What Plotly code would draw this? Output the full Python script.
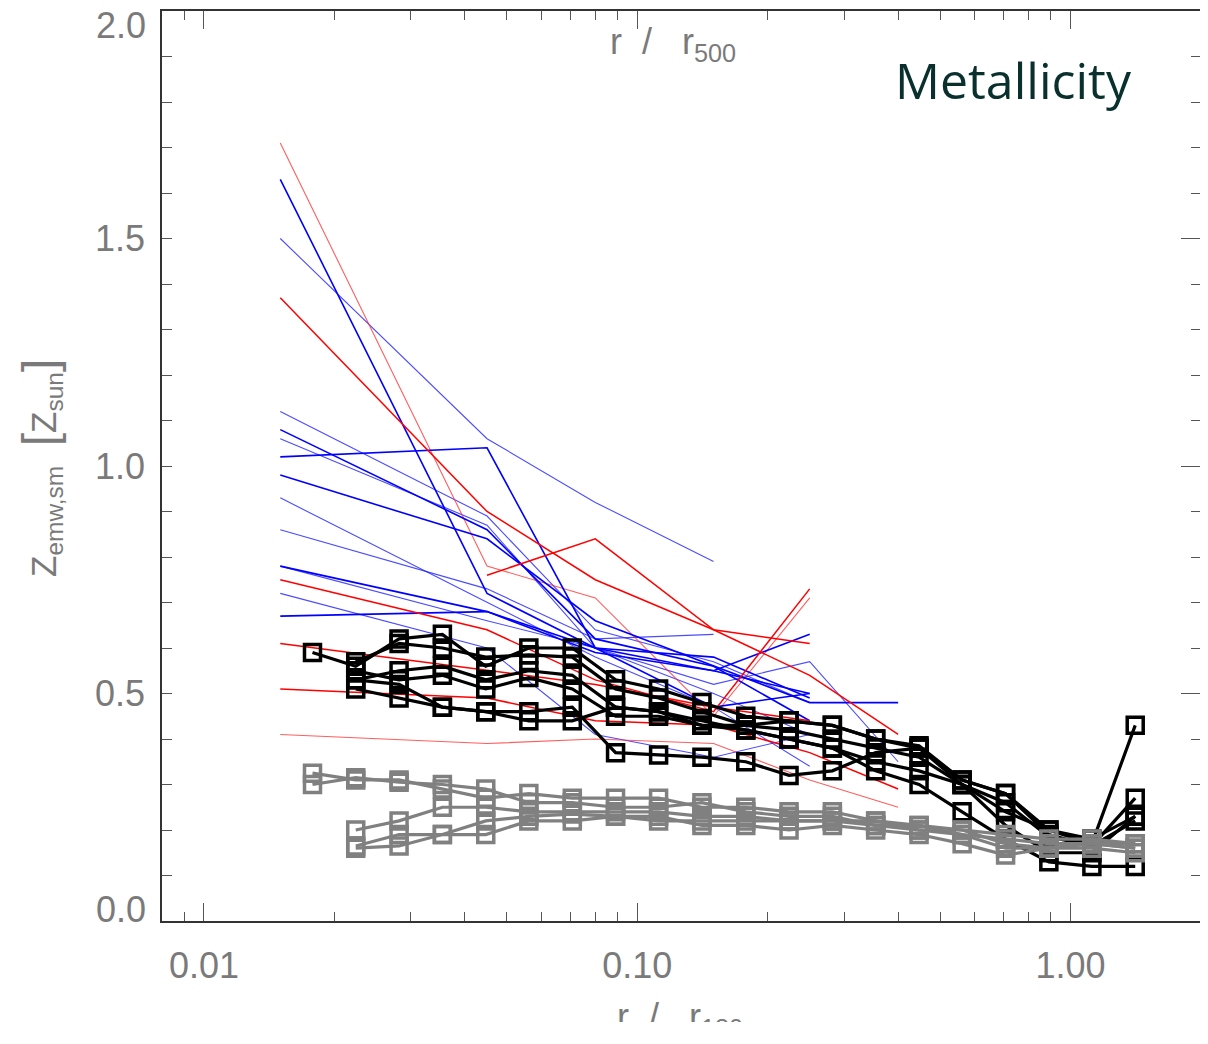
import plotly.graph_objects as go

# ---------------- data ----------------
# radii of the coloured (red/blue) profiles, r/r180
COL_X = [0.015, 0.045, 0.08, 0.15, 0.25, 0.4]

RED_BOLD = [
    [1.37, 0.90, 0.75, 0.64, 0.54, 0.41],
    [None, 0.76, 0.84, 0.64, 0.61, None],
    [0.75, 0.64, 0.53, 0.46, 0.73, None],
    [0.61, 0.55, 0.52, 0.47, 0.44, None],
    [0.51, 0.49, 0.44, 0.43, 0.37, 0.29],
]
RED_THIN = [
    [1.71, 0.78, 0.71, 0.45, 0.71, None],
    [0.41, 0.39, 0.40, 0.39, 0.31, 0.25],
]
BLUE_BOLD = [
    [1.63, 0.72, 0.60, 0.47, 0.50, None],
    [1.08, 0.86, 0.62, 0.56, 0.44, None],
    [1.02, 1.04, 0.60, 0.55, 0.63, None],
    [0.98, 0.84, 0.66, 0.56, 0.48, 0.48],
    [0.78, 0.68, 0.59, 0.55, 0.50, None],
    [0.67, 0.68, 0.60, 0.58, 0.49, None],
]
BLUE_THIN = [
    [1.50, 1.06, 0.92, 0.79, None, None],
    [1.12, 0.89, 0.64, 0.57, 0.48, None],
    [1.06, 0.87, 0.60, 0.52, 0.57, 0.35],
    [0.93, 0.70, 0.58, 0.47, 0.34, None],
    [0.86, 0.73, 0.62, 0.63, None, None],
    [0.78, 0.66, 0.60, 0.50, 0.41, None],
    [0.72, 0.60, 0.41, 0.36, 0.41, None],
]

# radii of the binned (square-marker) profiles, r/r180
PROF_X = [0.0178, 0.0224, 0.0282, 0.0355, 0.0447, 0.0562, 0.0708, 0.0891, 0.112, 0.141,
          0.178, 0.224, 0.282, 0.355, 0.447, 0.562, 0.708, 0.891, 1.12, 1.41]

BLACK = [
    [0.59, 0.56, 0.62, 0.63, 0.56, 0.60, 0.60, 0.53, 0.51, 0.48, 0.45, 0.44, 0.43, 0.40, 0.385, 0.31, 0.28, 0.20, 0.17, 0.43],
    [None, 0.57, 0.61, 0.60, 0.58, 0.585, 0.58, 0.51, 0.49, 0.46, 0.43, 0.42, 0.40, 0.38, 0.36, 0.30, 0.26, 0.185, 0.165, 0.27],
    [None, 0.53, 0.55, 0.56, 0.53, 0.55, 0.54, 0.47, 0.46, 0.44, 0.42, 0.40, 0.38, 0.35, 0.33, 0.30, 0.24, 0.20, 0.18, 0.23],
    [None, 0.55, 0.53, 0.54, 0.51, 0.535, 0.51, 0.45, 0.45, 0.43, 0.43, 0.44, 0.43, 0.40, 0.38, 0.31, 0.28, 0.19, 0.165, 0.22],
    [None, 0.51, 0.49, 0.47, 0.46, 0.46, 0.47, 0.37, 0.365, 0.36, 0.35, 0.32, 0.33, 0.37, 0.38, 0.30, 0.21, 0.15, 0.15, 0.23],
    [None, 0.53, 0.52, 0.47, 0.46, 0.44, 0.44, 0.47, 0.46, 0.43, 0.42, 0.40, 0.38, 0.33, 0.30, 0.24, 0.18, 0.13, 0.12, 0.12],
]
GREY = [
    [0.325, 0.31, 0.31, 0.29, 0.27, 0.28, 0.27, 0.27, 0.27, 0.25, 0.25, 0.24, 0.24, 0.22, 0.21, 0.20, 0.19, 0.18, 0.18, 0.17],
    [0.30, 0.315, 0.305, 0.30, 0.29, 0.26, 0.26, 0.25, 0.25, 0.26, 0.24, 0.23, 0.23, 0.21, 0.21, 0.19, 0.18, 0.17, 0.17, 0.16],
    [None, 0.20, 0.22, 0.25, 0.25, 0.24, 0.24, 0.24, 0.24, 0.23, 0.23, 0.22, 0.22, 0.22, 0.20, 0.20, 0.17, 0.16, 0.17, 0.17],
    [None, 0.165, 0.19, 0.19, 0.19, 0.22, 0.22, 0.23, 0.22, 0.22, 0.22, 0.22, 0.22, 0.21, 0.20, 0.19, 0.16, 0.16, 0.16, 0.15],
    [None, 0.16, 0.165, 0.19, 0.22, 0.23, 0.235, 0.23, 0.23, 0.21, 0.21, 0.20, 0.21, 0.20, 0.19, 0.17, 0.145, 0.16, 0.17, 0.16],
]

X_TICKS = [0.01, 0.1, 1.0]
X_TICKTEXT = ["0.01", "0.10", "1.00"]
Y_TICKS = [0.0, 0.5, 1.0, 1.5, 2.0]
Y_TICKTEXT = ["0.0", "0.5", "1.0", "1.5", "2.0"]

# ---------------- figure ----------------
fig = go.Figure()

def add_lines(series, color, width):
    for ys in series:
        fig.add_trace(go.Scatter(x=COL_X, y=ys, mode="lines",
                                 line=dict(color=color, width=width),
                                 showlegend=False, hoverinfo="skip"))

add_lines(BLUE_THIN, "rgba(30,30,255,0.8)", 1.1)
add_lines(RED_THIN, "rgba(255,40,40,0.75)", 1.1)
add_lines(BLUE_BOLD, "rgb(0,0,255)", 1.6)
add_lines(RED_BOLD, "rgb(255,0,0)", 1.5)

for ys in BLACK:
    fig.add_trace(go.Scatter(x=PROF_X, y=ys, mode="lines+markers",
                             line=dict(color="black", width=3.2),
                             marker=dict(symbol="square-open", size=16, color="black",
                                         line=dict(width=3.5)),
                             showlegend=False))
for ys in GREY:
    fig.add_trace(go.Scatter(x=PROF_X, y=ys, mode="lines+markers",
                             line=dict(color="rgb(128,128,128)", width=3.2),
                             marker=dict(symbol="square-open", size=16, color="rgb(128,128,128)",
                                         line=dict(width=3.5)),
                             showlegend=False))

# empty trace to realise the overlaid top/right axes
fig.add_trace(go.Scatter(x=[], y=[], xaxis="x2", yaxis="y2", showlegend=False))

XR = [-2.0969, 0.30103]
minor_x = [m * 10.0 ** e for e in (-3, -2, -1, 0) for m in range(2, 10)
           if 0.008 < m * 10.0 ** e <= 2.0 and m * 10.0 ** e not in X_TICKS]

LABEL_C = "#7a7a7a"
tickfont = dict(family="Liberation Sans, Arial, sans-serif", size=36, color=LABEL_C)
LINE_C = "#333333"
TICK_C = "#555555"

common_x = dict(type="log", range=XR, tickmode="array", tickvals=X_TICKS,
                ticktext=X_TICKTEXT, ticks="inside", ticklen=18, tickwidth=1.2,
                tickcolor=TICK_C, showline=True, linecolor=LINE_C, linewidth=1.5,
                showgrid=False, zeroline=False, tickfont=tickfont, automargin=False,
                ticklabeloverflow="allow",
                minor=dict(tickmode="array", tickvals=minor_x, ticks="inside",
                           ticklen=9, tickwidth=1.2, tickcolor=TICK_C, showgrid=False))

# end labels (0.0 and 2.0) are nudged inwards separately, as in the original
y_inner_text = [t if v not in (Y_TICKS[0], Y_TICKS[-1]) else "" for v, t in zip(Y_TICKS, Y_TICKTEXT)]

# the page body adds an 8 px offset; margins are chosen so the frame lands at
# x 162..1201, y 11..921 of the window
fig.update_layout(
    width=1200, height=1014,
    margin=dict(l=154, r=7, t=3, b=101),
    paper_bgcolor="white", plot_bgcolor="white",
    xaxis=dict(**common_x, side="bottom", ticklabelstandoff=12),
    xaxis2=dict(**common_x, side="top", overlaying="x", anchor="y2",
                ticklabelstandoff=8, ticklabelshift=-8),
    yaxis=dict(range=[0, 2], tickmode="array", tickvals=Y_TICKS, ticktext=y_inner_text,
               ticks="inside", ticklen=10, tickwidth=1.2, tickcolor=TICK_C,
               showline=True, linecolor=LINE_C, linewidth=1.5, showgrid=False,
               zeroline=False, tickfont=tickfont, ticklabelstandoff=8, automargin=False,
               ticklabeloverflow="allow",
               minor=dict(dtick=0.1, ticks="inside", ticklen=10, tickwidth=1.2,
                          tickcolor=TICK_C, showgrid=False)),
    yaxis2=dict(range=[0, 2], overlaying="y", side="right", anchor="x2",
                tickmode="array", tickvals=Y_TICKS, showticklabels=False,
                ticks="inside", ticklen=20, tickwidth=1.2, tickcolor=TICK_C,
                showline=True, linecolor=LINE_C, linewidth=1.5, showgrid=False,
                zeroline=False, automargin=False,
                minor=dict(dtick=0.1, ticks="inside", ticklen=10, tickwidth=1.2,
                           tickcolor=TICK_C, showgrid=False)),
)

for v, t, shift in ((Y_TICKS[0], Y_TICKTEXT[0], 12), (Y_TICKS[-1], Y_TICKTEXT[-1], -14)):
    fig.add_annotation(xref="paper", yref="y", x=0, y=v, text=t, showarrow=False,
                       xanchor="right", yanchor="middle", xshift=-14, yshift=shift,
                       font=tickfont)

title_font = dict(family="Liberation Sans, Arial, sans-serif", size=36, color=LABEL_C)
SEP = "\u00a0\u00a0/\u00a0\u00a0\u00a0"
fig.add_annotation(xref="paper", yref="paper", x=(673 - 162) / 1039, y=(921 - 44) / 910,
                   text="r" + SEP + "r<sub>500</sub>", showarrow=False,
                   xanchor="center", yanchor="middle", font=title_font)
fig.add_annotation(xref="paper", yref="paper", x=(680 - 162) / 1039, y=(921 - 994) / 910,
                   text="r" + SEP + "r<sub>180</sub>", showarrow=False,
                   xanchor="center", yanchor="top", font=title_font)
fig.add_annotation(xref="paper", yref="paper", x=(40 - 162) / 1039, y=(921 - 468) / 910,
                   text="Z<sub>emw,sm</sub> \u00a0<span style='font-size:48px'>[</span>Z<sub>sun</sub><span style='font-size:48px'>]</span>",
                   textangle=-90, showarrow=False, xanchor="center", yanchor="middle",
                   font=dict(family="Liberation Sans, Arial, sans-serif", size=35, color=LABEL_C))
fig.add_annotation(xref="paper", yref="paper", x=(1134 - 162) / 1039, y=(921 - 80) / 910,
                   text="Metallicity", showarrow=False, xanchor="right", yanchor="middle",
                   font=dict(family="Open Sans, Liberation Sans, sans-serif", size=50, color="#0a302e"))

fig.write_html("out.html")
